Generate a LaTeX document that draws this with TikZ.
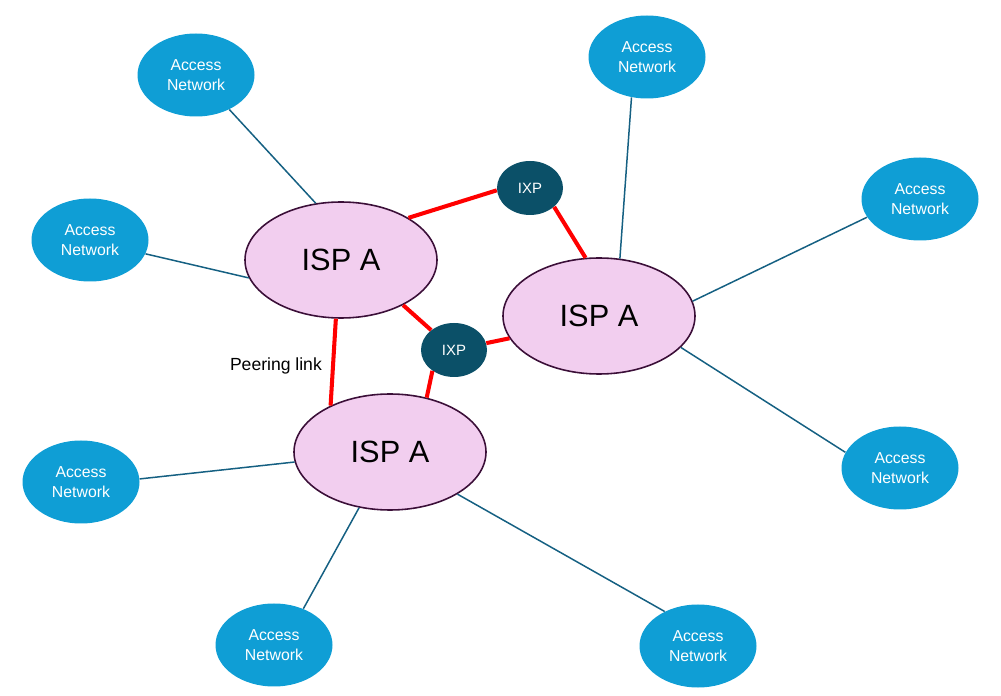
\documentclass[tikz,border=0pt]{standalone}
\usepackage{fontspec}
\setmainfont{Liberation Sans}
\usetikzlibrary{shapes.geometric, positioning}
\definecolor{accfill}{HTML}{0F9ED5}
\definecolor{acclink}{HTML}{156082}
\definecolor{ixpfill}{HTML}{0B5068}
\definecolor{ispfill}{HTML}{F2CEEF}
\definecolor{ispdraw}{HTML}{3B0F38}
\tikzstyle{isp} = [ellipse, minimum width=3.84cm, minimum height=2.32cm, inner sep=0pt, draw=ispdraw, line width=0.9pt, fill=ispfill, font=\fontsize{17.5}{21}\selectfont]
\tikzstyle{ixp} = [ellipse, minimum width=1.32cm, minimum height=1.08cm, inner sep=0pt, fill=ixpfill, text=white, font=\fontsize{8.5}{10}\selectfont]
\tikzstyle{access} = [ellipse, minimum width=2.34cm, minimum height=1.66cm, inner sep=0pt, fill=accfill, text=white, align=center, font=\fontsize{9}{11}\selectfont]
\tikzstyle{uplink} = [draw=acclink, line width=0.85pt]
\tikzstyle{peering} = [draw=red, line width=2.3pt]

\begin{document}
\begin{tikzpicture}[node distance=2cm, on grid]
\useasboundingbox (0,0) rectangle (20.02,-13.92);

% Nodes
\node (ispl) [isp] at (6.82,-5.2) {ISP A};
\node (ispr) [isp, below right=1.12 and 5.16 of ispl] {ISP A};
\node (ispb) [isp, below right=3.84 and 0.98 of ispl] {ISP A};
\node (ixpt) [ixp, above right=1.44 and 3.78 of ispl] {IXP};
\node (ixpb) [ixp, below right=1.8 and 2.26 of ispl] {IXP};
\node (acc1) [access, above left=3.7 and 2.9 of ispl] {Access\\Network};
\node (acc2) [access, above left=0.4 and 5.02 of ispl] {Access\\Network};
\node (acc3) [access, above right=5.18 and 0.96 of ispr] {Access\\Network};
\node (acc4) [access, above right=2.34 and 6.42 of ispr] {Access\\Network};
\node (acc6) [access, below right=3.04 and 6.02 of ispr] {Access\\Network};
\node (acc5) [access, below left=0.6 and 6.18 of ispb] {Access\\Network};
\node (acc7) [access, below left=3.86 and 2.32 of ispb] {Access\\Network};
\node (acc8) [access, below right=3.88 and 6.16 of ispb] {Access\\Network};

% Access links
\draw [uplink] (acc1.-46.7) -- (ispl.114.9);
\draw [uplink] (acc2.-14.3) -- (ispl.-169.2);
\draw [uplink] (acc3.-111.3) -- (ispr.70.7);
\draw [uplink] (acc4.-161.6) -- (ispr.9.2);
\draw [uplink] (acc6.164.5) -- (ispr.-21.6);
\draw [uplink] (acc5.3) -- (ispb.-174.6);
\draw [uplink] (acc7.51.9) -- (ispb.-119);
\draw [uplink] (acc8.134.1) -- (ispb.-32.1);

% Peering links
\draw [peering] (ispl.32.9) -- (ixpt.-176.4);
\draw [peering] (ixpt.-38) -- (ispr.103.8);
\draw [peering] (ispl.-36.1) -- (ixpb.139.2);
\draw [peering] (ixpb.12.7) -- (ispr.-166.3);
\draw [peering] (ixpb.-136.4) -- (ispb.56.1);
\draw [peering] (ispl.-95.9) -- (ispb.142.2) node[midway, left=2pt, yshift=-0.07cm, font=\fontsize{10}{12}\selectfont] {Peering link};

\end{tikzpicture}
\end{document}
